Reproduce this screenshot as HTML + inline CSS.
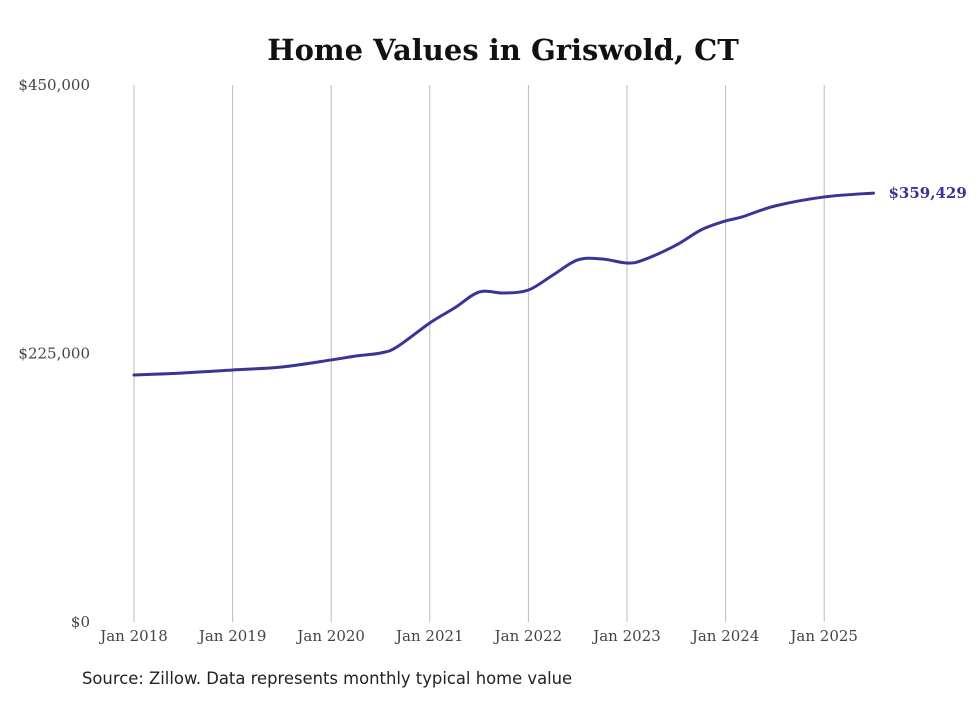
<!DOCTYPE html>
<html><head><meta charset="utf-8"><style>
body{margin:0;background:#fff;width:980px;height:699px;overflow:hidden}
svg text{font-family:"DejaVu Serif","Liberation Serif",serif}
</style></head><body>
<svg id="chart" width="980" height="699" viewBox="0 0 980 699">
<text x="503" y="60" text-anchor="middle" font-size="29" font-weight="bold" fill="#111">Home Values in Griswold, CT</text>
<g id="grid"></g><g id="yt"></g><g id="xt"></g><g id="ser"></g>
<text x="82" y="684" font-size="16.4" fill="#222" style="font-family:'DejaVu Sans','Liberation Sans',sans-serif">Source: Zillow. Data represents monthly typical home value</text>
</svg>
<script>
const months=[0,6,12,18,24,27,30,32,36,39,42,45,48,51,54,57,60,62,66,69,72,74,78,84,90];
const values=[207000,208700,211200,213700,219600,222900,225400,230500,250600,263100,276500,275700,278200,290800,303400,304200,300800,303400,315900,328500,336100,339400,348600,356200,359429];
const yTicks=[0,225000,450000];
const yTickLabels=["$0","$225,000","$450,000"];
const xTickMonths=[0,12,24,36,48,60,72,84];
const xTickLabels=["Jan 2018","Jan 2019","Jan 2020","Jan 2021","Jan 2022","Jan 2023","Jan 2024","Jan 2025"];
const endLabel="$359,429";
const NS="http://www.w3.org/2000/svg";
const xS=m=>134+m*(98.6/12);
const yS=v=>622-v*(537/450000);
function mk(t,a,p){const e=document.createElementNS(NS,t);for(const k in a)e.setAttribute(k,a[k]);document.getElementById(p).appendChild(e);return e;}
yTicks.forEach((v,i)=>{const t=mk('text',{x:90,y:yS(v)+5,'text-anchor':'end','font-size':15,fill:'#444'},'yt');t.textContent=yTickLabels[i];

});
xTickMonths.forEach((m,i)=>{const l=mk('line',{x1:xS(m),x2:xS(m),y1:85,y2:622,stroke:'#bbb','stroke-width':1},'grid');


const t=mk('text',{x:xS(m),y:641,'text-anchor':'middle','font-size':15,fill:'#444'},'xt');t.textContent=xTickLabels[i];

});
const pts=months.map((m,i)=>[xS(m),yS(values[i])]);
let d='M'+pts[0][0]+','+pts[0][1];
for(let i=0;i<pts.length-1;i++){const p0=pts[Math.max(0,i-1)],p1=pts[i],p2=pts[i+1],p3=pts[Math.min(pts.length-1,i+2)];
const c1=[p1[0]+(p2[0]-p0[0])/6,p1[1]+(p2[1]-p0[1])/6],c2=[p2[0]-(p3[0]-p1[0])/6,p2[1]-(p3[1]-p1[1])/6];
d+=`C${c1[0]},${c1[1]} ${c2[0]},${c2[1]} ${p2[0]},${p2[1]}`;}
const path=mk('path',{d:d,fill:'none',stroke:'#3a3495','stroke-width':3,'stroke-linecap':'round'},'ser');


const last=pts[pts.length-1];
const lab=mk('text',{x:last[0]+15,y:last[1]+5,'font-size':15,'font-weight':'bold',fill:'#3a3495'},'ser');lab.textContent=endLabel;


</script>
</body></html>
